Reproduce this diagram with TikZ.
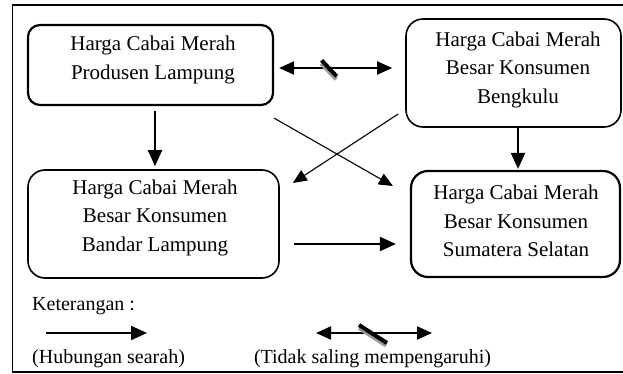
\documentclass[tikz,border=0pt]{standalone}
\usepackage{fontspec}
\setmainfont{Liberation Serif}
\usetikzlibrary{arrows.meta,calc}
\begin{document}
\begin{tikzpicture}[x=1pt,y=-1pt,
  box/.style={draw,rounded corners=17pt,line width=1.6pt,inner sep=0pt},
  thickbox/.style={box,line width=2.2pt},
  lbl/.style={align=center,inner sep=0pt,font=\fontsize{21}{28.5}\selectfont},
  leg/.style={inner sep=0pt,font=\fontsize{20}{24}\selectfont},
  arr/.style={line width=2pt,-{Triangle[length=16pt,width=14pt]}},
  darr/.style={line width=2pt,{Triangle[length=15pt,width=13pt]}-{Triangle[length=15pt,width=13pt]}},
  thinarr/.style={line width=1.1pt,-{Triangle[length=14pt,width=12pt]}},
  slashline/.style={line width=4pt},
  slashshadow/.style={line width=4pt,draw=black!40}]
\useasboundingbox (0,0) rectangle (623,374);
% frame
\draw[line width=1.3pt] (640,5) -- (12.5,5) -- (12.5,372) -- (640,372);
% boxes
\node[thickbox,rounded corners=12pt,minimum width=245pt,minimum height=80pt] (b1) at (150.5,65) {};
\node[box,minimum width=215pt,minimum height=108pt] (b2) at (513.5,73) {};
\node[box,minimum width=251pt,minimum height=108pt] (b3) at (153.5,224) {};
\node[thickbox,minimum width=209pt,minimum height=106pt] (b4) at (515.5,224) {};
% texts
\node[lbl] (t1) at (153,60) {Harga Cabai Merah\\Produsen Lampung};
\node[lbl] (t2) at (518,69.5) {Harga Cabai Merah\\Besar Konsumen\\Bengkulu};
\node[lbl] (t3) at (155,217.5) {Harga Cabai Merah\\Besar Konsumen\\Bandar Lampung};
\node[lbl] (t4) at (516,221) {Harga Cabai Merah\\Besar Konsumen\\Sumatera Selatan};
% connectors
\draw[darr] ([shift={(5,3)}]b1.east) -- ([shift={(-13,-5)}]b2.west);
\coordinate (s1) at ($(b1.east)!0.42!(b2.west)$);
\draw[slashshadow] ([shift={(-8,-5)}]s1) -- ([shift={(7,11)}]s1);
\draw[slashline] ([shift={(-7.5,-8)}]s1) -- ([shift={(7.5,8)}]s1);
\draw[arr] ([shift={(4.5,5)}]b1.south) -- ([shift={(1.5,-3)}]b3.north);
\draw[arr] ([shift={(4.5,0)}]b2.south) -- ([shift={(2.5,-1)}]b4.north);
\draw[thinarr] ([shift={(0,12)}]b1.south east) -- ([shift={(-17,-38)}]b4.west);
\draw[thinarr] ([shift={(-7,41)}]b2.west) -- ([shift={(13,-41)}]b3.east);
\draw[arr] ([shift={(14,20)}]b3.east) -- ([shift={(-14,20)}]b4.west);
% legend
\node[leg,anchor=west] (k) at (32,306) {Keterangan :};
\coordinate (la1) at (46,333);
\coordinate (la2) at (147,333);
\draw[arr] (la1) -- (la2);
\node[leg,anchor=west] (h) at (32,359) {(Hubungan searah)};
\coordinate (ld1) at (316,333);
\coordinate (ld2) at (432,333);
\draw[darr] (ld1) -- (ld2);
\coordinate (ls) at (373,334);
\draw[slashshadow] ([shift={(-14,-6)}]ls) -- ([shift={(13,11.5)}]ls);
\draw[slashline] ([shift={(-14,-9)}]ls) -- ([shift={(14,9)}]ls);
\node[leg] (tl) at (372.5,359) {(Tidak saling mempengaruhi)};
\end{tikzpicture}
\end{document}
